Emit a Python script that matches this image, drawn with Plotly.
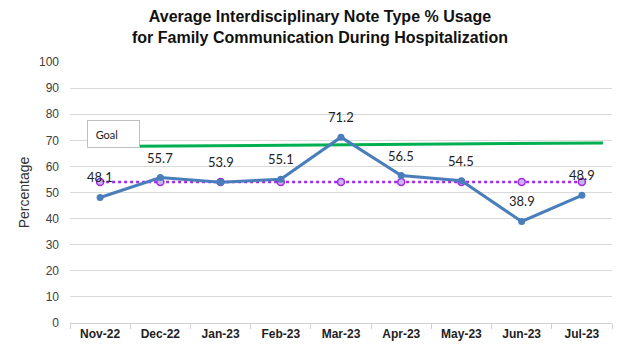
import plotly.graph_objects as go

months = ["Nov-22", "Dec-22", "Jan-23", "Feb-23", "Mar-23", "Apr-23", "May-23", "Jun-23", "Jul-23"]
usage = [48.1, 55.7, 53.9, 55.1, 71.2, 56.5, 54.5, 38.9, 48.9]
average = [54.0] * 9
goal_x = [-0.17, 8.35]
goal_y = [67.6, 69.0]
y_ticks = list(range(0, 101, 10))

xi = list(range(len(months)))

fig = go.Figure()
fig.add_trace(go.Scatter(x=goal_x, y=goal_y, mode="lines",
                         line=dict(color="#00B050", width=3), hoverinfo="skip"))
fig.add_trace(go.Scatter(x=xi, y=average, mode="lines+markers",
                         line=dict(color="#A22BE8", width=2.5, dash="dot"),
                         marker=dict(size=7, color="#C9B6EE", line=dict(color="#A22BE8", width=1.5))))
fig.add_trace(go.Scatter(x=xi, y=usage, mode="lines+markers",
                         line=dict(color="#4A7EBB", width=3),
                         marker=dict(size=7, color="#4A7EBB")))

annotations = []
for x, v in zip(xi, usage):
    annotations.append(dict(x=x, y=v, xref="x", yref="y", text=f"{v}", showarrow=False,
                            yshift=20, font=dict(family="Lato, Liberation Sans", size=13, color="#222222")))
annotations.append(dict(x=-0.22, y=67.2, xref="x", yref="y", text="&nbsp;&nbsp;Goal", showarrow=False,
                        xanchor="left", yanchor="bottom", width=47, height=22, align="left",
                        bordercolor="#BFBFBF", borderwidth=1, borderpad=2, bgcolor="white",
                        font=dict(family="Lato, Liberation Sans", size=11, color="#222222")))
annotations.append(dict(x=0.461, y=1.135, xref="paper", yref="paper", showarrow=False,
                        xanchor="center", yanchor="middle",
                        text="<b>Average Interdisciplinary Note Type % Usage<br>for Family Communication During Hospitalization</b>",
                        font=dict(family="Liberation Sans, Arial", size=16, color="#111111")))

fig.update_layout(
    width=608, height=340,
    margin=dict(l=62, r=4, t=54, b=25),
    paper_bgcolor="white", plot_bgcolor="white",
    showlegend=False,
    annotations=annotations,
    xaxis=dict(range=[-0.5, 8.5], tickvals=xi, ticktext=[f"<b>{m}</b>" for m in months],
               showgrid=False, zeroline=False,
               showline=True, linecolor="#D0D0D0", linewidth=1, ticks="",
               tickfont=dict(family="Liberation Sans, Arial", size=12, color="#222222"),
               minor=dict(tick0=-0.5, dtick=1, ticks="outside", ticklen=5, tickcolor="#D0D0D0"),
               ),
    yaxis=dict(range=[0, 100], tickvals=y_ticks, showgrid=True, gridcolor="#D9D9D9", gridwidth=1,
               zeroline=False, showline=False, ticks="", ticklabelstandoff=10,
               tickfont=dict(family="Liberation Sans, Arial", size=12, color="#404040"),
               title=dict(text="Percentage", standoff=6,
                          font=dict(family="Liberation Sans, Arial", size=14, color="#333333"))),
)

fig.write_html("out.html")
